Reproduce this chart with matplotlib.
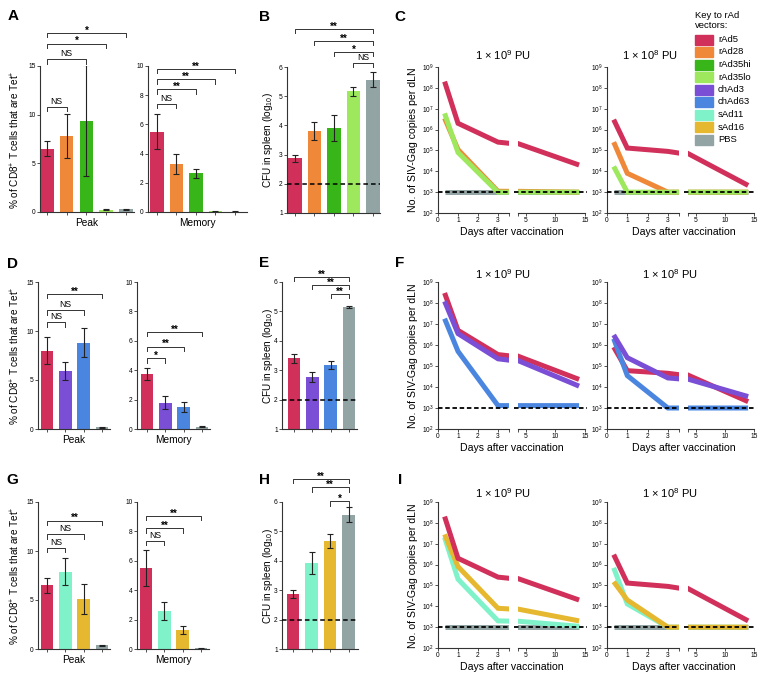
import numpy as np
import matplotlib
matplotlib.use("Agg")
import matplotlib.pyplot as plt
from matplotlib.patches import Rectangle

plt.rcParams['font.family'] = ['Liberation Sans', 'DejaVu Sans']
plt.rcParams['mathtext.fontset'] = 'custom'
plt.rcParams['mathtext.rm'] = 'Liberation Sans'
plt.rcParams['mathtext.it'] = 'Liberation Sans:italic'
plt.rcParams['mathtext.bf'] = 'Liberation Sans:bold'
plt.rcParams['mathtext.default'] = 'regular'

# ---- data ----
vectors = ['rAd5', 'rAd28', 'rAd35hi', 'rAd35lo', 'chAd3', 'chAd63', 'sAd11', 'sAd16', 'PBS']
vector_colors = ['#D0305A', '#F0883A', '#38B518', '#9DE85C', '#7A4FD6',
                 '#4A86E0', '#7FF2CA', '#E6B830', '#93A4A4']
colors = dict(zip(vectors, vector_colors))

# tetramer responses (% of CD8+ T cells), mean and SEM
A_groups = ['rAd5', 'rAd28', 'rAd35hi', 'rAd35lo', 'PBS']
A_peak = [6.5, 7.8, 9.4, 0.25, 0.3]
A_peak_sem = [0.75, 2.3, 5.7, 0.04, 0.05]
A_mem = [5.5, 3.3, 2.65, 0.05, 0.03]
A_mem_sem = [1.2, 0.7, 0.3, 0.02, 0.01]
B_cfu = [2.87, 3.8, 3.9, 5.17, 5.57]
B_cfu_sem = [0.13, 0.3, 0.45, 0.16, 0.25]

D_groups = ['rAd5', 'chAd3', 'chAd63', 'PBS']
D_peak = [8.0, 5.9, 8.8, 0.2]
D_peak_sem = [1.35, 0.95, 1.5, 0.05]
D_mem = [3.75, 1.8, 1.5, 0.15]
D_mem_sem = [0.4, 0.47, 0.32, 0.03]
E_cfu = [3.4, 2.78, 3.17, 5.15]
E_cfu_sem = [0.14, 0.17, 0.13, 0.05]

G_groups = ['rAd5', 'sAd11', 'sAd16', 'PBS']
G_peak = [6.5, 7.9, 5.1, 0.4]
G_peak_sem = [0.75, 1.4, 1.5, 0.05]
G_mem = [5.5, 2.6, 1.3, 0.05]
G_mem_sem = [1.22, 0.6, 0.25, 0.02]
H_cfu = [2.88, 3.93, 4.68, 5.57]
H_cfu_sem = [0.13, 0.37, 0.24, 0.25]

# significance brackets: (from bar, to bar, height, text)
A_peak_sig = [(0, 1, 10.8, 'NS'), (0, 2, 15.7, 'NS'), (0, 3, 17.3, '*'), (0, 4, 18.4, '*')]
A_mem_sig = [(0, 1, 7.4, 'NS'), (0, 2, 8.4, '**'), (0, 3, 9.1, '**'), (0, 4, 9.8, '**')]
B_sig = [(3, 4, 6.14, 'NS'), (2, 4, 6.51, '*'), (1, 4, 6.89, '**'), (0, 4, 7.3, '**')]
D_peak_sig = [(0, 1, 10.9, 'NS'), (0, 2, 12.1, 'NS'), (0, 3, 13.8, '**')]
D_mem_sig = [(0, 1, 4.8, '*'), (0, 2, 5.6, '**'), (0, 3, 6.6, '**')]
E_sig = [(2, 3, 5.6, '**'), (1, 3, 5.9, '**'), (0, 3, 6.17, '**')]
G_peak_sig = [(0, 1, 10.3, 'NS'), (0, 2, 11.7, 'NS'), (0, 3, 13.1, '**')]
G_mem_sig = [(0, 1, 7.35, 'NS'), (0, 2, 8.2, '**'), (0, 3, 9.05, '**')]
H_sig = [(2, 3, 6.03, '*'), (1, 3, 6.5, '**'), (0, 3, 6.78, '**')]

# SIV-Gag copies per dLN
days = [0.33, 1, 3, 14]
C9_rAd5 = [2e8, 2e6, 2.5e5, 2e4]
C9_rAd28 = [3.5e6, 1.1e5, 1.1e3, 1.0e3]
C9_rAd35lo = [6e6, 8e4, 1e3, 1e3]
C9_PBS = [1e3, 1e3, 1e3, 1e3]
C8_rAd5 = [3e6, 1.3e5, 9e4, 2.1e3]
C8_rAd28 = [2.5e5, 8e3, 1e3, 1e3]
C8_rAd35lo = [1.7e4, 1e3, 1e3, 1e3]
C8_PBS = [1e3, 1e3, 1e3, 1e3]

F9_rAd5 = [3e8, 5e6, 3.5e5, 2.3e4]
F9_chAd3 = [1.2e8, 3.5e6, 2.2e5, 1.1e4]
F9_chAd63 = [1.8e7, 5e5, 1.3e3, 1.3e3]
F8_rAd5 = [8e5, 6e4, 4.5e4, 2e3]
F8_chAd3 = [3e6, 2.5e5, 2.7e4, 3.5e3]
F8_chAd63 = [2e6, 3.5e4, 1e3, 1e3]

I9_rAd5 = [2e8, 2e6, 2.5e5, 2e4]
I9_sAd11 = [2e7, 2e5, 2e3, 1.1e3]
I9_sAd16 = [2.8e7, 8e5, 8e3, 2e3]
I9_PBS = [1e3, 1e3, 1e3, 1e3]
I8_rAd5 = [3e6, 1.3e5, 9e4, 2e3]
I8_sAd11 = [7e5, 1.3e4, 1e3, 1e3]
I8_sAd16 = [1.5e5, 2e4, 1e3, 1e3]
I8_PBS = [1e3, 1e3, 1e3, 1e3]

cfu_limit = 2
copies_limit = 1e3

# ---- figure ----
W, H = 764, 687
fig = plt.figure(figsize=(W / 100, H / 100), dpi=100)
AX_COL = '#333333'


def px_axes(l, t, r, b):
    return fig.add_axes([l / W, 1 - b / H, (r - l) / W, (b - t) / H])


def style(ax):
    for s in ['top', 'right']:
        ax.spines[s].set_visible(False)
    for s in ['left', 'bottom']:
        ax.spines[s].set_color(AX_COL)
        ax.spines[s].set_linewidth(0.8)
    ax.tick_params(labelsize=4.8, length=2, width=0.6, color=AX_COL, pad=1)


def bracket(ax, i, j, y, txt, drop):
    ax.plot([i, i, j, j], [y - drop, y, y, y - drop], color='#333333', lw=0.7, clip_on=False)
    if txt == 'NS':
        ax.text((i + j) / 2, y + drop * 0.3, txt, ha='center', va='bottom', fontsize=6.2)
    else:
        ax.text((i + j) / 2, y - drop * 0.6, txt, ha='center', va='bottom', fontsize=7, fontweight='bold')


def bar_panel(box, groups, vals, sem, ylim, yticks, xlim, sig, xlabel=None, dashed=None):
    ax = px_axes(*box)
    x = np.arange(len(vals))
    ax.bar(x, vals, width=0.68, color=[colors[g] for g in groups], yerr=sem, capsize=2,
           error_kw=dict(elinewidth=0.8, capthick=0.8, ecolor='#222222'), zorder=2)
    if dashed is not None:
        ax.axhline(dashed, color='black', lw=1.1, ls=(0, (3, 2)), zorder=3)
    ax.set_ylim(*ylim)
    ax.set_yticks(yticks)
    ax.set_xlim(*xlim)
    ax.set_xticks(x)
    ax.set_xticklabels([])
    style(ax)
    if xlabel:
        ax.set_xlabel(xlabel, fontsize=7.3, labelpad=1)
    drop = (ylim[1] - ylim[0]) * 0.03
    for i, j, y, t in sig:
        bracket(ax, i, j, y, t, drop)
    return ax


def line_panel(l, s1r, s2l, r, t, b, series):
    ax1 = px_axes(l, t, s1r, b)
    ax2 = px_axes(s2l, t, r, b)
    for ax in (ax1, ax2):
        ax.set_yscale('log')
        ax.set_ylim(1e2, 1e9)
        style(ax)
        ax.minorticks_off()
        for name, vals in series:
            ax.plot(days, vals, color=colors[name], lw=3.6, solid_capstyle='butt',
                    solid_joinstyle='miter', zorder=2)
    ax1.set_yticks([10.0 ** k for k in range(2, 10)])
    ax1.set_xlim(0, 3.55)
    ax1.set_xticks([0, 1, 2, 3, 3.55])
    ax1.set_xticklabels(['0', '1', '2', '3', ''])
    ax2.set_xlim(3.7, 15)
    ax2.set_xticks([3.7, 5, 10, 15])
    ax2.set_xticklabels(['', '5', '10', '15'])
    ax2.spines['left'].set_visible(False)
    ax2.tick_params(axis='y', left=False, labelleft=False)
    ax1.axhline(copies_limit, color='black', lw=1.3, ls=(0, (2.5, 1.5)), zorder=3)
    ax2.plot([3.0, 15.4], [copies_limit, copies_limit], color='black', lw=1.3,
             ls=(0, (2.5, 1.5)), zorder=3, clip_on=False)
    return ax1, ax2


def ftext(x, y, s, **kw):
    fig.text(x / W, 1 - y / H, s, **kw)


# row 1
bar_panel((40, 66, 134, 212), A_groups, A_peak, A_peak_sem, (0, 15), [0, 5, 10, 15],
          (-0.35, 4.41), A_peak_sig, 'Peak')
bar_panel((148, 66, 247, 212), A_groups, A_mem, A_mem_sem, (0, 10), [0, 2, 4, 6, 8, 10],
          (-0.46, 4.62), A_mem_sig, 'Memory')
bar_panel((287, 67, 380, 213), A_groups, B_cfu, B_cfu_sem, (1, 6), [1, 2, 3, 4, 5, 6],
          (-0.41, 4.36), B_sig, dashed=cfu_limit)
line_panel(438, 509, 518, 585, 67, 213,
           [('PBS', C9_PBS), ('rAd28', C9_rAd28), ('rAd35lo', C9_rAd35lo), ('rAd5', C9_rAd5)])
line_panel(607, 679, 688, 754, 67, 213,
           [('PBS', C8_PBS), ('rAd28', C8_rAd28), ('rAd35lo', C8_rAd35lo), ('rAd5', C8_rAd5)])

# row 2
bar_panel((38, 282, 110, 429), D_groups, D_peak, D_peak_sem, (0, 15), [0, 5, 10, 15],
          (-0.49, 3.44), D_peak_sig, 'Peak')
bar_panel((137, 282, 210, 429), D_groups, D_mem, D_mem_sem, (0, 10), [0, 2, 4, 6, 8, 10],
          (-0.55, 3.44), D_mem_sig, 'Memory')
bar_panel((282, 282, 357, 429), D_groups, E_cfu, E_cfu_sem, (1, 6), [1, 2, 3, 4, 5, 6],
          (-0.66, 3.44), E_sig, dashed=cfu_limit)
line_panel(438, 509, 518, 585, 282, 429,
           [('rAd5', F9_rAd5), ('chAd3', F9_chAd3), ('chAd63', F9_chAd63)])
line_panel(607, 679, 688, 754, 282, 429,
           [('rAd5', F8_rAd5), ('chAd63', F8_chAd63), ('chAd3', F8_chAd3)])

# row 3
bar_panel((38, 502, 110, 649), G_groups, G_peak, G_peak_sem, (0, 15), [0, 5, 10, 15],
          (-0.49, 3.44), G_peak_sig, 'Peak')
bar_panel((137, 502, 209, 649), G_groups, G_mem, G_mem_sem, (0, 10), [0, 2, 4, 6, 8, 10],
          (-0.49, 3.44), G_mem_sig, 'Memory')
bar_panel((282, 502, 358, 649), G_groups, H_cfu, H_cfu_sem, (1, 6), [1, 2, 3, 4, 5, 6],
          (-0.6, 3.5), H_sig, dashed=cfu_limit)
line_panel(438, 509, 518, 585, 502, 648,
           [('PBS', I9_PBS), ('sAd11', I9_sAd11), ('sAd16', I9_sAd16), ('rAd5', I9_rAd5)])
line_panel(607, 679, 688, 754, 502, 648,
           [('PBS', I8_PBS), ('sAd11', I8_sAd11), ('sAd16', I8_sAd16), ('rAd5', I8_rAd5)])

# panel letters, axis labels, titles
for letter, x, y in [('A', 13, 16), ('B', 264, 17), ('C', 400, 17),
                     ('D', 12, 264), ('E', 264, 263), ('F', 400, 263),
                     ('G', 12, 480), ('H', 264, 480), ('I', 400, 480)]:
    ftext(x, y, letter, fontsize=11, fontweight='bold', ha='center', va='center')

for yc in [140, 356, 576]:
    ftext(15, yc, '% of CD8$^{+}$ T cells that are Tet$^{+}$', rotation=90,
          fontsize=7.2, ha='center', va='center')
    ftext(268, yc, 'CFU in spleen (log$_{10}$)', rotation=90,
          fontsize=7.2, ha='center', va='center')
    ftext(413, yc, 'No. of SIV-Gag copies per dLN', rotation=90,
          fontsize=7.6, ha='center', va='center')

for yt, yx, xr in [(55, 232, 650), (274, 448, 670), (493, 667, 670)]:
    ftext(503, yt, '1 × 10$^{9}$ PU', fontsize=8, ha='center', va='center')
    ftext(xr, yt, '1 × 10$^{8}$ PU', fontsize=8, ha='center', va='center')
    ftext(512, yx, 'Days after vaccination', fontsize=7.6, ha='center', va='center')
    ftext(684, yx, 'Days after vaccination', fontsize=7.6, ha='center', va='center')

# key to vectors
ftext(695, 15, 'Key to rAd', fontsize=6.8, ha='left', va='center')
ftext(695, 26, 'vectors:', fontsize=6.8, ha='left', va='center')
for k, name in enumerate(vectors):
    yc = 39.5 + 12.5 * k
    fig.add_artist(Rectangle((695 / W, 1 - (yc + 5) / H), 18 / W, 10 / H,
                             transform=fig.transFigure, color=colors[name]))
    ftext(718, yc, name, fontsize=6.8, ha='left', va='center')

fig.savefig('out.png', dpi=100)
